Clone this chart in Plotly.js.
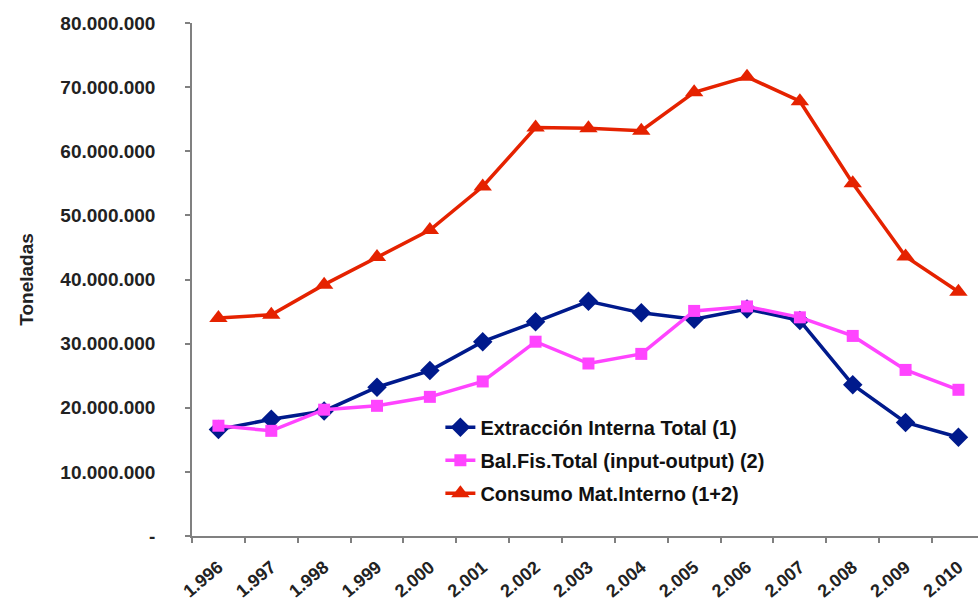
<!DOCTYPE html>
<html>
<head>
<meta charset="utf-8">
<script src="https://cdn.plot.ly/plotly-3.0.1.min.js"></script>
<style>
  html, body { margin: 0; padding: 0; background: #fff; }
  #chart { width: 978px; height: 605px; }
</style>
</head>
<body>
<div id="chart"></div>
<script>
const years = ["1.996", "1.997", "1.998", "1.999", "2.000", "2.001", "2.002", "2.003",
  "2.004", "2.005", "2.006", "2.007", "2.008", "2.009", "2.010"];

// Toneladas
const extraccionInterna = [16600000, 18200000, 19500000, 23200000, 25800000, 30300000, 33400000,
  36600000, 34800000, 33800000, 35400000, 33600000, 23600000, 17700000, 15400000];
const balFisTotal = [17200000, 16400000, 19700000, 20300000, 21700000, 24100000, 30300000,
  26900000, 28400000, 35100000, 35800000, 34100000, 31200000, 25900000, 22800000];
const consumoMatInterno = [34000000, 34500000, 39200000, 43500000, 47700000, 54500000, 63700000,
  63600000, 63200000, 69200000, 71600000, 67800000, 55000000, 43600000, 38100000];

const yTickVals = [0, 10000000, 20000000, 30000000, 40000000, 50000000, 60000000, 70000000, 80000000];
const yTickText = ["-", "10.000.000", "20.000.000", "30.000.000", "40.000.000",
  "50.000.000", "60.000.000", "70.000.000", "80.000.000"];

const baseFont = { family: "Liberation Sans, Arial, sans-serif", color: "#222", weight: "bold" };

const extraccionTrace = {
  x: years,
  y: extraccionInterna,
  name: "Extracción Interna Total (1)",
  legendgroup: "a",
  type: "scatter",
  mode: "lines+markers",
  line: { color: "#001a8c", width: 3.5 },
  marker: { symbol: "diamond", size: 15, color: "#001a8c" },
};

const balanceTrace = {
  x: years,
  y: balFisTotal,
  name: "Bal.Fis.Total (input-output) (2)",
  legendgroup: "b",
  type: "scatter",
  mode: "lines+markers",
  line: { color: "#ff44ff", width: 3.5 },
  marker: { symbol: "square", size: 12, color: "#ff44ff" },
};

const consumoTrace = {
  x: years,
  y: consumoMatInterno,
  name: "Consumo Mat.Interno (1+2)",
  legendgroup: "c",
  type: "scatter",
  mode: "lines+markers",
  line: { color: "#e52200", width: 3.5 },
  marker: { symbol: "triangle-up", size: 16, color: "#e52200" },
};

const chartLayout = {
  width: 978,
  height: 605,
  margin: { l: 192, r: 0, t: 23, b: 69 },
  paper_bgcolor: "#fff",
  plot_bgcolor: "#fff",
  font: baseFont,
  showlegend: true,
  legend: {
    x: 0.316,
    y: 0.25,
    xanchor: "left",
    yanchor: "top",
    bgcolor: "rgba(0,0,0,0)",
    font: { ...baseFont, size: 20, color: "#111" },
    tracegroupgap: 4,
  },
  xaxis: {
    type: "category",
    range: [-0.5, 14.37],
    tickson: "boundaries",
    ticks: "outside",
    ticklen: 5,
    tickwidth: 1.5,
    tickcolor: "#808080",
    ticklabelstandoff: 12,
    showline: true,
    linecolor: "#808080",
    linewidth: 1.5,
    showgrid: false,
    zeroline: false,
    tickangle: -40,
    tickfont: { ...baseFont, size: 18 },
  },
  yaxis: {
    range: [0, 80000000],
    tickvals: yTickVals,
    ticktext: yTickText,
    ticks: "outside",
    ticklen: 5,
    tickwidth: 1.5,
    tickcolor: "#808080",
    ticklabelstandoff: 26,
    showline: true,
    linecolor: "#808080",
    linewidth: 1.5,
    showgrid: false,
    zeroline: false,
    tickfont: { ...baseFont, size: 19 },
    title: { text: "Toneladas", font: { ...baseFont, size: 19 }, standoff: 22 },
  },
};

Plotly.newPlot("chart", [extraccionTrace, balanceTrace, consumoTrace], chartLayout, { displayModeBar: false });
</script>
</body>
</html>
